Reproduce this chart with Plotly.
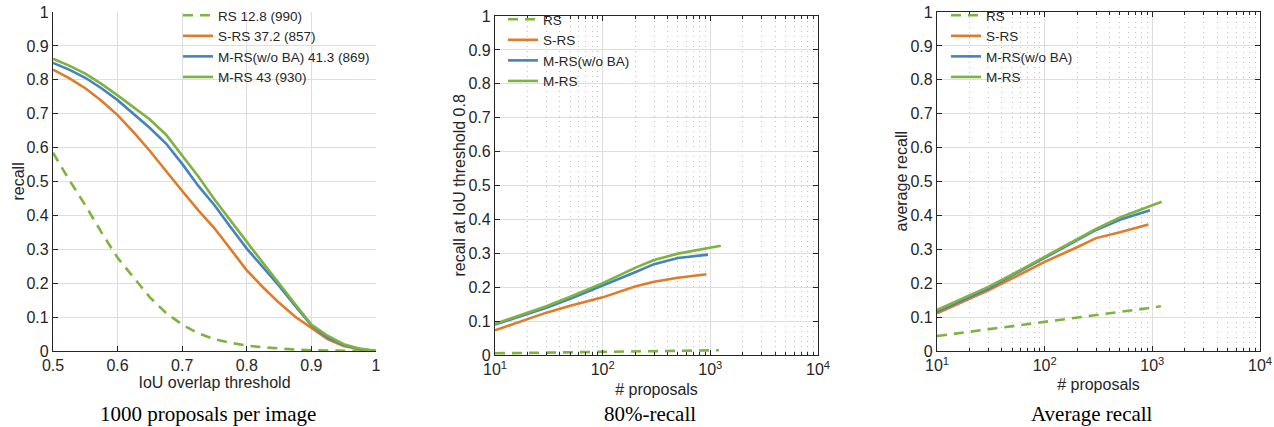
import plotly.graph_objects as go

# ---------------- data ----------------
# Panel 1: recall vs IoU overlap threshold (1000 proposals per image)
iou = [0.5, 0.525, 0.55, 0.575, 0.6, 0.625, 0.65, 0.675, 0.7, 0.725, 0.75,
       0.775, 0.8, 0.825, 0.85, 0.875, 0.9, 0.925, 0.95, 0.975, 1.0]
p1_rs = [0.585, 0.505, 0.43, 0.35, 0.275, 0.215, 0.158, 0.112, 0.078, 0.052, 0.035,
         0.024, 0.016, 0.011, 0.007, 0.004, 0.002, 0.001, 0.0005, 0.0, 0.0]
p1_srs = [0.830, 0.805, 0.775, 0.738, 0.696, 0.645, 0.59, 0.53, 0.472, 0.415, 0.362,
          0.30, 0.238, 0.188, 0.142, 0.101, 0.067, 0.035, 0.015, 0.005, 0.0]
p1_mrs_noba = [0.850, 0.830, 0.806, 0.775, 0.740, 0.700, 0.658, 0.612, 0.552, 0.487, 0.43,
               0.365, 0.302, 0.247, 0.192, 0.133, 0.076, 0.04, 0.018, 0.006, 0.0]
p1_mrs = [0.862, 0.842, 0.818, 0.788, 0.754, 0.719, 0.683, 0.638, 0.575, 0.515, 0.447,
          0.383, 0.322, 0.26, 0.198, 0.138, 0.078, 0.045, 0.02, 0.007, 0.0]
p1_names = ["RS 12.8 (990)", "S-RS 37.2 (857)", "M-RS(w/o BA) 41.3 (869)", "M-RS 43 (930)"]

# Panel 2: recall at IoU threshold 0.8 vs # proposals
p2_rs_n = [10, 20, 50, 100, 200, 500, 1000, 1200]
p2_rs = [0.005, 0.006, 0.008, 0.009, 0.011, 0.012, 0.013, 0.014]
p2_srs_n = [10, 20, 30, 50, 100, 200, 300, 500, 920]
p2_srs = [0.073, 0.106, 0.125, 0.145, 0.170, 0.202, 0.216, 0.228, 0.238]
p2_noba_n = [10, 20, 30, 50, 100, 200, 300, 500, 950]
p2_noba = [0.090, 0.121, 0.139, 0.166, 0.204, 0.244, 0.268, 0.286, 0.296]
p2_mrs_n = [10, 20, 30, 50, 100, 200, 300, 500, 1000, 1250]
p2_mrs = [0.092, 0.125, 0.144, 0.172, 0.212, 0.257, 0.280, 0.299, 0.318, 0.322]

# Panel 3: average recall vs # proposals
p3_rs_n = [10, 30, 100, 300, 1000, 1200]
p3_rs = [0.044, 0.064, 0.084, 0.105, 0.128, 0.132]
p3_srs_n = [10, 20, 30, 50, 100, 200, 300, 500, 920]
p3_srs = [0.111, 0.154, 0.179, 0.214, 0.263, 0.306, 0.333, 0.350, 0.373]
p3_noba_n = [10, 20, 30, 50, 100, 200, 300, 500, 950]
p3_noba = [0.116, 0.160, 0.184, 0.223, 0.275, 0.328, 0.357, 0.387, 0.415]
p3_mrs_n = [10, 20, 30, 50, 100, 200, 300, 500, 1000, 1220]
p3_mrs = [0.121, 0.164, 0.189, 0.226, 0.278, 0.331, 0.360, 0.394, 0.430, 0.440]

short_names = ["RS", "S-RS", "M-RS(w/o BA)", "M-RS"]

log_tickvals = [10, 100, 1000, 10000]
log_ticktext = ["10<sup>1</sup>", "10<sup>2</sup>", "10<sup>3</sup>", "10<sup>4</sup>"]
minor_vals = [m * d for d in (10, 100, 1000) for m in range(2, 10)]

captions = ["1000 proposals per image", "80%-recall", "Average recall"]
y_titles = ["recall", "recall at IoU threshold 0.8", "average recall"]

# ---------------- style ----------------
W, H = 1274, 427
GREEN = "#7DB340"
ORANGE = "#E07B2A"
BLUE = "#4682BC"
DARK = "#262626"
FONT = "Liberation Sans"
colors = [GREEN, ORANGE, BLUE, GREEN]
dashes = ["10px,7px", "solid", "solid", "solid"]

fig = go.Figure()

panels = [
    ("x", "y", "legend", [iou] * 4, [p1_rs, p1_srs, p1_mrs_noba, p1_mrs], p1_names),
    ("x2", "y2", "legend2", [p2_rs_n, p2_srs_n, p2_noba_n, p2_mrs_n],
     [p2_rs, p2_srs, p2_noba, p2_mrs], short_names),
    ("x3", "y3", "legend3", [p3_rs_n, p3_srs_n, p3_noba_n, p3_mrs_n],
     [p3_rs, p3_srs, p3_noba, p3_mrs], short_names),
]
for xa, ya, lg, xs, ys, names in panels:
    for i in range(4):
        fig.add_trace(go.Scatter(
            x=xs[i], y=ys[i], mode="lines", name=names[i],
            line=dict(color=colors[i], width=2.6, dash=dashes[i]),
            xaxis=xa, yaxis=ya, legend=lg, hoverinfo="skip"))

def px_x(a, b):
    return [a / W, b / W]

def px_y(top, bottom):
    return [1 - bottom / H, 1 - top / H]

axis_common = dict(
    showline=True, linecolor=DARK, linewidth=1.3, automargin=False,
    ticks="inside", ticklen=5, tickwidth=1, tickcolor=DARK,
    showgrid=True, gridcolor="#dedede", gridwidth=1, zeroline=False,
    tickfont=dict(family=FONT, size=16, color=DARK),
)
title_font = dict(family=FONT, size=16, color=DARK)

yaxis_common = dict(axis_common, range=[0, 1], dtick=0.1, tick0=0)

log_minor = dict(tickmode="array", tickvals=minor_vals, ticks="inside", ticklen=3,
                 tickcolor=DARK, showgrid=True, gridcolor="#c2c2c2",
                 griddash="1px,4px", gridwidth=1)

fig.update_layout(
    width=W, height=H, margin=dict(l=0, r=0, t=0, b=0, autoexpand=False),
    paper_bgcolor="white", plot_bgcolor="white", showlegend=True,
    xaxis=dict(axis_common, domain=px_x(53, 376), anchor="y", range=[0.5, 1],
               dtick=0.1, tick0=0.5, mirror=False,
               title=dict(text="IoU overlap threshold", font=title_font, standoff=0)),
    yaxis=dict(yaxis_common, domain=px_y(12, 351), anchor="x", mirror=False),
    xaxis2=dict(axis_common, domain=px_x(495, 818), anchor="y2", type="log",
                range=[1, 4], tickmode="array", tickvals=log_tickvals,
                ticktext=log_ticktext, mirror="ticks", minor=log_minor,
                title=dict(text="# proposals", font=title_font, standoff=6)),
    yaxis2=dict(yaxis_common, domain=px_y(16, 355), anchor="x2", mirror="ticks"),
    xaxis3=dict(axis_common, domain=px_x(937, 1260), anchor="y3", type="log",
                range=[1, 4], tickmode="array", tickvals=log_tickvals,
                ticktext=log_ticktext, mirror="ticks", minor=log_minor,
                title=dict(text="# proposals", font=title_font, standoff=5)),
    yaxis3=dict(yaxis_common, domain=px_y(12, 351), anchor="x3", mirror="ticks"),
)

legend_common = dict(xanchor="left", yanchor="top", bgcolor="rgba(0,0,0,0)",
                     borderwidth=0, tracegroupgap=0, itemwidth=30,
                     font=dict(family=FONT, size=13.5, color=DARK))
fig.update_layout(
    legend=dict(legend_common, x=178 / W, y=1.0),
    legend2=dict(legend_common, x=503 / W, y=1 - 4 / H),
    legend3=dict(legend_common, x=946 / W, y=1.0),
)

# rotated y-axis titles, centred on each panel
ytitle_pos = [(18, 181.5), (459, 185.5), (901, 181.5)]
for text, (cx, cy) in zip(y_titles, ytitle_pos):
    fig.add_annotation(text=text, x=cx / W, y=1 - cy / H, xref="paper", yref="paper",
                       xanchor="center", yanchor="middle", showarrow=False,
                       textangle=-90, font=title_font)

caption_pos = [(208, 414), (650, 414), (1092, 414)]
for text, (cx, cy) in zip(captions, caption_pos):
    fig.add_annotation(text=text, x=cx / W, y=1 - cy / H, xref="paper", yref="paper",
                       xanchor="center", yanchor="middle", showarrow=False,
                       font=dict(family="Liberation Serif", size=21, color="black"))

fig.write_html(
    "out.html",
    config={"displayModeBar": False},
    post_script="document.body.style.margin='0';document.body.style.overflow='hidden';",
)
